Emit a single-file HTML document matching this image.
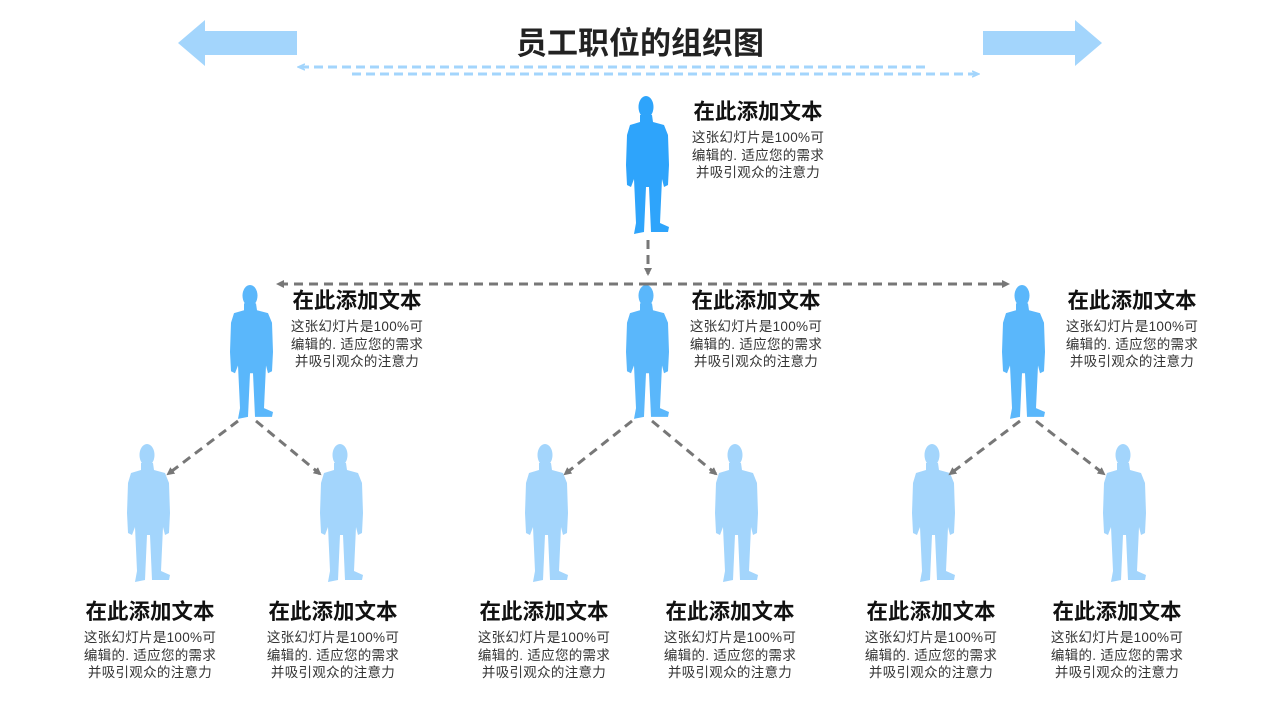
<!DOCTYPE html>
<html><head><meta charset="utf-8"><style>
body{margin:0;width:1280px;height:720px;background:#fff;position:relative;overflow:hidden;font-family:"Liberation Sans","Noto Sans CJK SC",sans-serif}
.t{position:absolute;width:170px;text-align:center;color:#222}
.t b{display:block;font-size:21.5px;line-height:26px;font-weight:bold;color:#111}
.t span{display:block;font-size:13.5px;line-height:17.5px;color:#333;margin-top:4px;letter-spacing:0.3px}
</style></head><body>
<svg width="1280" height="720" style="position:absolute;left:0;top:0">
<defs>
<g id="p"><ellipse cx="22" cy="12" rx="7.5" ry="11"/><path d="M16,20 L28,20 L29,27 L40,30 L44,40 L45,70 L44,90 L40,92 L38,84 L36,128 L45,132 L44,137 L27,137 L25,92 L22,92 L20,137 L10,139 L12,128 L10,84 L7,92 L3,90 L2,70 L3,40 L6,30 L16,27 Z"/></g>
<marker id="a" markerWidth="8" markerHeight="8" refX="6" refY="4" orient="auto" markerUnits="userSpaceOnUse"><path d="M0,0 L8,4 L0,8 Z" fill="#777"/></marker>
<marker id="b" markerWidth="8" markerHeight="8" refX="6" refY="4" orient="auto" markerUnits="userSpaceOnUse"><path d="M0,1 L7,4 L0,7" fill="none" stroke="#a3d5fc" stroke-width="1.5"/></marker>
</defs>
<path d="M178,43 L205,20 L205,31 L297,31 L297,55 L205,55 L205,66 Z" fill="#a3d5fc"/>
<path d="M1102,43 L1075,20 L1075,31 L983,31 L983,55 L1075,55 L1075,66 Z" fill="#a3d5fc"/>
<g stroke="#a3d5fc" stroke-width="3" stroke-dasharray="9,5" fill="none">
<line x1="925" y1="67" x2="299" y2="67" marker-end="url(#b)"/>
<line x1="352" y1="74" x2="978" y2="74" marker-end="url(#b)"/>
</g>
<g fill="#2ea4fb"><use href="#p" transform="translate(624,95)"/></g>
<g fill="#5ab7fb">
<use href="#p" transform="translate(228,284) scale(1,0.97)"/>
<use href="#p" transform="translate(624,284) scale(1,0.97)"/>
<use href="#p" transform="translate(1000,284) scale(1,0.97)"/>
</g>
<g fill="#a3d5fc">
<use href="#p" transform="translate(125,443)"/>
<use href="#p" transform="translate(318,443)"/>
<use href="#p" transform="translate(523,443)"/>
<use href="#p" transform="translate(713,443)"/>
<use href="#p" transform="translate(910,443)"/>
<use href="#p" transform="translate(1101,443)"/>
</g>
<g stroke="#777" stroke-width="3" stroke-dasharray="9,6" fill="none" marker-end="url(#a)">
<line x1="648" y1="240" x2="648" y2="274"/>
<line x1="648" y1="284" x2="278" y2="284"/>
<line x1="648" y1="284" x2="1008" y2="284"/>
<line x1="238" y1="421" x2="168" y2="474"/>
<line x1="256" y1="421" x2="320" y2="474"/>
<line x1="632" y1="421" x2="565" y2="474"/>
<line x1="652" y1="421" x2="716" y2="474"/>
<line x1="1020" y1="421" x2="950" y2="474"/>
<line x1="1036" y1="421" x2="1104" y2="474"/>
</g>
<text x="640" y="54" text-anchor="middle" font-size="31" font-weight="bold" fill="#222" font-family="Liberation Sans, Noto Sans CJK SC, sans-serif">员工职位的组织图</text>
</svg>
<div class="t" style="left:673px;top:99px"><b>在此添加文本</b><span>这张幻灯片是100%可<br>编辑的. 适应您的需求<br>并吸引观众的注意力</span></div>
<div class="t" style="left:272px;top:288px"><b>在此添加文本</b><span>这张幻灯片是100%可<br>编辑的. 适应您的需求<br>并吸引观众的注意力</span></div>
<div class="t" style="left:671px;top:288px"><b>在此添加文本</b><span>这张幻灯片是100%可<br>编辑的. 适应您的需求<br>并吸引观众的注意力</span></div>
<div class="t" style="left:1047px;top:288px"><b>在此添加文本</b><span>这张幻灯片是100%可<br>编辑的. 适应您的需求<br>并吸引观众的注意力</span></div>
<div class="t" style="left:65px;top:599px"><b>在此添加文本</b><span>这张幻灯片是100%可<br>编辑的. 适应您的需求<br>并吸引观众的注意力</span></div>
<div class="t" style="left:248px;top:599px"><b>在此添加文本</b><span>这张幻灯片是100%可<br>编辑的. 适应您的需求<br>并吸引观众的注意力</span></div>
<div class="t" style="left:459px;top:599px"><b>在此添加文本</b><span>这张幻灯片是100%可<br>编辑的. 适应您的需求<br>并吸引观众的注意力</span></div>
<div class="t" style="left:645px;top:599px"><b>在此添加文本</b><span>这张幻灯片是100%可<br>编辑的. 适应您的需求<br>并吸引观众的注意力</span></div>
<div class="t" style="left:846px;top:599px"><b>在此添加文本</b><span>这张幻灯片是100%可<br>编辑的. 适应您的需求<br>并吸引观众的注意力</span></div>
<div class="t" style="left:1032px;top:599px"><b>在此添加文本</b><span>这张幻灯片是100%可<br>编辑的. 适应您的需求<br>并吸引观众的注意力</span></div>
</body></html>
